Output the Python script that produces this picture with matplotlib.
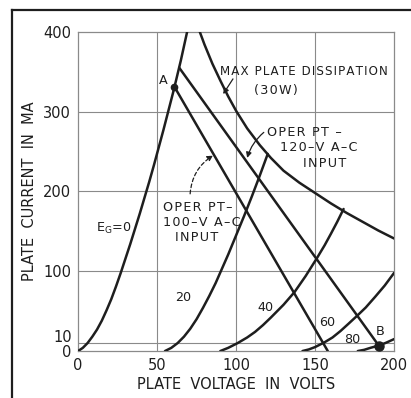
import numpy as np
import matplotlib
matplotlib.use("Agg")
import matplotlib.pyplot as plt
from matplotlib.lines import Line2D

# Plate characteristics, read in volts / milliamperes
eg0_v = [0, 3, 6, 9, 12, 15, 18, 21, 24, 27, 30, 33, 36, 39, 42, 45, 48, 51, 54, 57, 60, 61, 65, 69]
eg0_i = [0, 4, 10, 18, 27, 38, 51, 65, 81, 98, 116, 134, 153, 172, 192, 212, 233, 255, 277, 300, 323, 331, 364, 400]

eg20_v = [55, 59, 63, 67, 71, 75, 79, 83, 87, 91, 95, 100, 105, 110, 115, 120]
eg20_i = [0, 4, 10, 18, 28, 40, 54, 69, 85, 103, 121, 145, 169, 194, 220, 247]

eg40_v = [90, 95, 101, 107, 112, 117, 122, 130, 137, 144, 151, 156, 160, 164, 168]
eg40_i = [0, 4, 10, 17, 24, 32.5, 42, 58, 74, 94, 116, 132.5, 147, 162, 178]

eg60_v = [142, 146, 150, 156, 161, 166, 171, 177, 182, 188, 194, 200]
eg60_i = [0, 2, 5, 11, 17, 25, 34, 45, 54.5, 68, 82, 98]

eg80_v = [177, 181, 185, 190.5, 195, 200]
eg80_i = [0, 1.5, 4, 7, 10.5, 15]

# 30 W dissipation limit
diss_v = [77, 80, 85, 90, 95, 100, 107, 115, 122, 130, 140, 150, 160, 170, 180, 190, 200]
diss_i = [400, 384, 360, 339, 319, 301, 279, 258, 242, 226, 211, 198, 185, 173, 162, 151, 141]

# load lines for the two supply voltages
load100_v = [61, 158]
load100_i = [331, 0]
load120_v = [64, 192]
load120_i = [355, 2]

pt_a = (61, 331)
pt_b = (190.5, 6)

ink = "#1e1e1e"
grid_c = "#8a8a8a"


def spaced(s):
    # open up the lettering a little, like hand-lettered drafting text
    return "\u200a".join(s)


fig = plt.figure(figsize=(4.11, 3.98), dpi=100)
ax = fig.add_axes([0.190, 0.118, 0.769, 0.802])

for v, i in [(eg0_v, eg0_i), (eg20_v, eg20_i), (eg40_v, eg40_i),
             (eg60_v, eg60_i), (eg80_v, eg80_i), (diss_v, diss_i),
             (load100_v, load100_i), (load120_v, load120_i)]:
    ax.plot(v, i, color=ink, lw=1.8, solid_capstyle="round",
            solid_joinstyle="round", zorder=3)

ax.plot(*pt_a, "o", color=ink, ms=4.5, zorder=4)
ax.plot(*pt_b, "o", color=ink, ms=6.5, zorder=4)

ax.set_xlim(0, 200)
ax.set_ylim(0, 400)
ax.set_xticks([0, 50, 100, 150, 200])
ax.set_yticks([0, 100, 200, 300, 400])
ax.tick_params(length=0, labelsize=10.5, colors=ink, pad=5)
for x in [50, 100, 150]:
    ax.axvline(x, color=grid_c, lw=0.8, zorder=1)
for y in [10, 100, 200, 300]:
    ax.axhline(y, color=grid_c, lw=0.8, zorder=1)
for s in ax.spines.values():
    s.set_color(grid_c)
    s.set_linewidth(0.9)
ax.text(-0.018, 17.5, "10", transform=ax.get_yaxis_transform(),
        ha="right", va="center", fontsize=10.5, color=ink)

ax.set_xlabel("PLATE  VOLTAGE  IN  VOLTS", fontsize=10.5, color=ink, labelpad=3)
ax.set_ylabel("PLATE  CURRENT  IN  MA", fontsize=10.5, color=ink, labelpad=4)

# curve and point annotations
lab = dict(color=ink, fontsize=9.2)
ax.text(90, 350, spaced("MAX PLATE DISSIPATION"), ha="left", va="center",
        fontsize=8.6, color=ink)
ax.text(111.4, 327, spaced("(30W)"), ha="left", va="center", **lab)
ax.text(119.5, 274, spaced("OPER PT \u2013"), ha="left", va="center", **lab)
ax.text(127.8, 255, spaced("120\u2013V A\u2013C"), ha="left", va="center", **lab)
ax.text(142.4, 235, spaced("INPUT"), ha="left", va="center", **lab)
ax.text(53.8, 180, spaced("OPER PT\u2013"), ha="left", va="center", **lab)
ax.text(53.8, 161, spaced("100\u2013V A\u2013C"), ha="left", va="center", **lab)
ax.text(61.4, 142, spaced("INPUT"), ha="left", va="center", **lab)
ax.text(11.4, 154, r"E$_\mathregular{G}$=0", ha="left", va="center", **lab)
ax.text(66.5, 67, "20", ha="center", va="center", **lab)
ax.text(118.4, 54, "40", ha="center", va="center", **lab)
ax.text(157.6, 36, "60", ha="center", va="center", **lab)
ax.text(173.4, 14, "80", ha="center", va="center", **lab)
ax.text(191, 25, "B", ha="center", va="center", **lab)
ax.text(53.8, 339, "A", ha="center", va="center", **lab)

ax.annotate("", xy=(91.8, 322), xytext=(98, 341),
            arrowprops=dict(arrowstyle="-|>", color=ink, lw=0.9,
                            mutation_scale=8, shrinkA=0, shrinkB=0))
ax.annotate("", xy=(107, 242), xytext=(117.5, 274),
            arrowprops=dict(arrowstyle="-|>", color=ink, lw=0.9,
                            mutation_scale=8, shrinkA=0, shrinkB=0,
                            connectionstyle="arc3,rad=0.15"))
ax.annotate("", xy=(85.4, 245), xytext=(70.9, 197),
            arrowprops=dict(arrowstyle="-|>", color=ink, lw=0.9, ls=(0, (3, 2)),
                            mutation_scale=8, shrinkA=0, shrinkB=0,
                            connectionstyle="arc3,rad=-0.25"))

# outer frame: left and top edges only
fig.add_artist(Line2D([12 / 411, 12 / 411], [0, 1 - 10 / 398],
                      transform=fig.transFigure, color=ink, lw=1.6))
fig.add_artist(Line2D([12 / 411, 1], [1 - 10 / 398, 1 - 10 / 398],
                      transform=fig.transFigure, color=ink, lw=1.6))

fig.savefig("out.png", dpi=100)
